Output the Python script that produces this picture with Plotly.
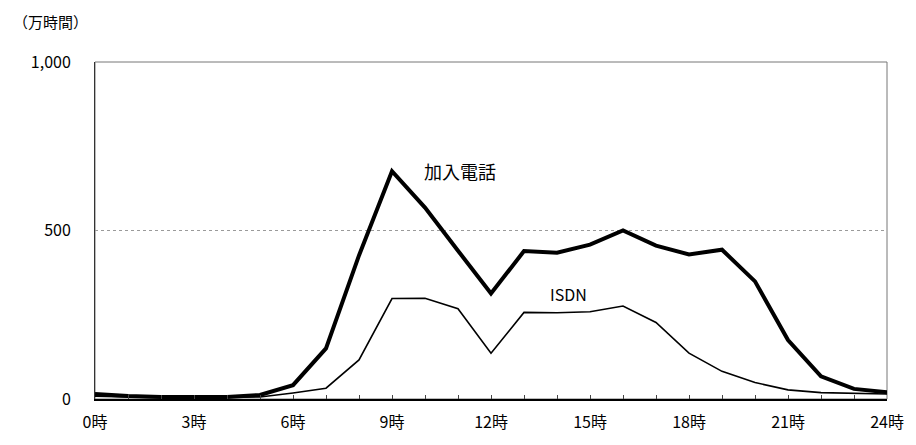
import plotly.graph_objects as go

hours = list(range(25))
kanyu = [15, 9, 6, 6, 6, 12, 41, 150, 426, 676, 568, 440, 313, 439, 434, 458, 500, 455, 429, 443, 349, 175, 67, 30, 20]
isdn = [8, 5, 4, 4, 4, 6, 18, 32, 116, 298, 299, 268, 136, 257, 256, 259, 276, 227, 136, 82, 49, 27, 19, 17, 15]
x_ticktext = [f"{h}時" if h % 3 == 0 else "" for h in hours]
y_tickvals = [0, 500, 1000]
y_ticktext = ["0", "500", "1,000"]

font = "Noto Sans CJK JP"

fig = go.Figure()
fig.add_trace(go.Scatter(x=hours, y=isdn, mode="lines", line=dict(color="black", width=1.6), name="ISDN"))
fig.add_trace(go.Scatter(x=hours, y=kanyu, mode="lines", line=dict(color="black", width=4), name="加入電話"))

fig.update_layout(
    width=908, height=437,
    margin=dict(l=87, r=24, t=54, b=44),
    paper_bgcolor="white", plot_bgcolor="white",
    showlegend=False,
    font=dict(family=font, size=16, color="black"),
    xaxis=dict(range=[0, 24], tickvals=hours, ticktext=x_ticktext, ticks="inside", ticklen=4,
               tickcolor="#444", showgrid=False, showline=True, linecolor="black", linewidth=1.5,
               zeroline=False, tickfont=dict(size=16), ticklabelstandoff=8),
    yaxis=dict(range=[0, 1000], tickvals=y_tickvals, ticktext=y_ticktext, ticks="",
               showgrid=True, gridcolor="#9a9a9a", gridwidth=1, griddash="dot",
               showline=True, linecolor="#333", linewidth=1, zeroline=False,
               tickfont=dict(size=16), ticklabelstandoff=20),
    shapes=[dict(type="rect", xref="paper", yref="paper", x0=0, y0=0, x1=1, y1=1,
                 line=dict(color="#777", width=1), layer="below")],
    annotations=[
        dict(text="（万時間）", xref="paper", yref="paper", x=-85/797, y=1 + 41/339, xanchor="left",
             yanchor="middle", showarrow=False, font=dict(size=15)),
        dict(text="加入電話", x=11.05, y=678, showarrow=False, font=dict(size=18)),
        dict(text="ISDN", x=14.35, y=313, showarrow=False, font=dict(size=16)),
    ],
)

fig.write_html("out.html")
